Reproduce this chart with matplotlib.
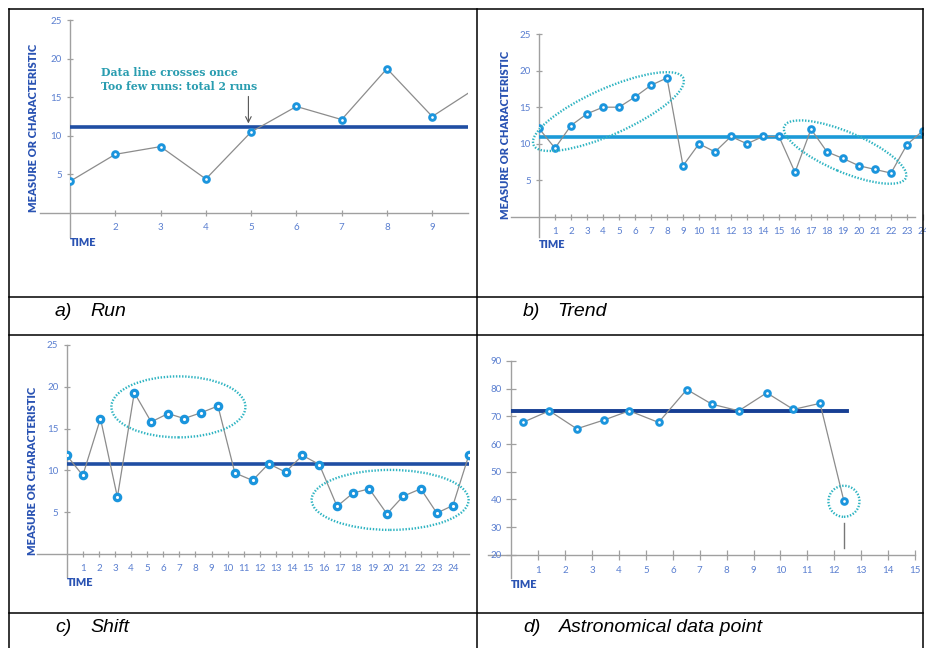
import matplotlib
matplotlib.use('Agg')
import matplotlib.pyplot as plt
import matplotlib.transforms as mtransforms
from matplotlib.patches import Ellipse
from matplotlib.lines import Line2D

# ---- data ----
a_time = [1, 2, 3, 4, 5, 6, 7, 8, 9, 10]
a_vals = [4.1, 7.6, 8.6, 4.4, 10.5, 13.8, 12.1, 18.7, 12.5, 16.3]
a_mean = 11.2
a_xticks = [2, 3, 4, 5, 6, 7, 8, 9]

b_time = list(range(25))
b_vals = [12.1, 9.4, 12.5, 14.1, 15.0, 15.0, 16.4, 18.0, 19.0, 7.0, 10.0, 8.9, 11.0,
          10.0, 11.0, 11.0, 6.1, 12.0, 8.9, 8.0, 7.0, 6.5, 6.0, 9.9, 11.8]
b_mean = 10.9
b_xticks = list(range(1, 25))

c_time = [0, 1.0, 2.1, 3.15, 4.2, 5.25, 6.3, 7.3, 8.35, 9.4, 10.45, 11.55, 12.55, 13.6,
          14.65, 15.7, 16.8, 17.8, 18.8, 19.9, 20.9, 22.0, 23.0, 24.0, 25.0]
c_vals = [11.8, 9.4, 16.2, 6.8, 19.3, 15.8, 16.8, 16.2, 16.9, 17.7, 9.7, 8.8, 10.8,
          9.8, 11.8, 10.7, 5.7, 7.3, 7.8, 4.8, 6.9, 7.8, 4.9, 5.8, 11.9]
c_mean = 10.75
c_xticks = list(range(1, 25))

d_time = [0.42, 1.41, 2.43, 3.45, 4.38, 5.47, 6.52, 7.45, 8.45, 9.49, 10.48, 11.47, 12.36]
d_vals = [67.8, 72.0, 65.5, 68.7, 72.0, 67.8, 79.7, 74.4, 72.0, 78.5, 72.5, 74.7, 39.3]
d_mean = 72.0
d_mean_end = 12.47
d_xticks = list(range(1, 16))
d_yticks = [20, 30, 40, 50, 60, 70, 80, 90]

run_yticks = [5, 10, 15, 20, 25]

# ellipses: (center time, center value, width px, height px, angle deg)
b_ellipses = [(4.34, 14.4, 164, 46, 24), (19.13, 8.87, 132, 40, -23)]
c_ellipses = [(6.94, 17.6, 134, 61, 0), (20.1, 6.47, 157, 60, 0)]
d_circle = (12.36, 39.3, 31, 31, 0)

captions = [('a)', 'Run'), ('b)', 'Trend'), ('c)', 'Shift'), ('d)', 'Astronomical data point')]

# ---- styles ----
W, H = 926, 648
l_gray = '#8c8c8c'
ax_gray = '#a0a0a0'
mk_blue = '#1b95dd'
tick_blue = '#5a7fd0'
lab_blue = '#2a53b3'
teal = '#2fb4c2'

fig = plt.figure(figsize=(W / 100, H / 100), dpi=100)


def px_axes(x0, x1, y_top, y_bot):
    return fig.add_axes([x0 / W, 1 - y_bot / H, (x1 - x0) / W, (y_bot - y_top) / H])


def setup(ax, xlim, ylim, xticks, yticks, ext_left, ext_down, x_right, y_top, tl=5):
    ax.set_xlim(*xlim)
    ax.set_ylim(*ylim)
    for s in ax.spines.values():
        s.set_visible(False)
    ax.set_facecolor('none')
    ax.set_xticks(xticks)
    ax.set_yticks(yticks)
    ax.set_xticklabels([str(t) for t in xticks])
    ax.set_yticklabels([str(t) for t in yticks])
    ax.tick_params(direction='inout', length=tl, width=0.9, color=ax_gray,
                   labelcolor=tick_blue, labelsize=7, pad=3.5)
    ax.tick_params(axis='x', pad=4.5)
    for lab in ax.get_xticklabels() + ax.get_yticklabels():
        lab.set_fontfamily('Lato')
    # axis lines that run past the origin
    ax.plot([ext_left, x_right], [ylim[0], ylim[0]], color=ax_gray, lw=1.0, clip_on=False, zorder=1)
    ax.plot([xlim[0], xlim[0]], [ext_down, y_top], color=ax_gray, lw=1.0, clip_on=False, zorder=1)


def series(ax, t, v, ms=4.1, mew=2.1):
    ax.plot(t, v, color=l_gray, lw=0.9, zorder=3)
    ax.plot(t, v, 'o', ms=ms, mew=mew, mfc='white', mec=mk_blue, zorder=4)


def ellipse(ax, e):
    cx, cy, w, h, ang = e
    tr = fig.dpi_scale_trans + mtransforms.ScaledTranslation(cx, cy, ax.transData)
    ax.add_patch(Ellipse((0, 0), w / 100, h / 100, angle=ang, transform=tr, fill=False,
                         ec=teal, lw=1.7, ls=(0, (0.6, 0.7)), clip_on=False, zorder=5))


# ---- a) Run ----
axa = px_axes(70, 468, 20, 213)
setup(axa, (1, 9.79), (0, 25), a_xticks, run_yticks, 0.34, -3.1, 9.79, 25)
axa.axhline(a_mean, color='#1f4ea3', lw=2.6, zorder=2)
series(axa, a_time, a_vals)
axa.text(1.68, 17.25, 'Data line crosses once\nToo few runs: total 2 runs', color='#2a9db0',
         family='DejaVu Serif', weight='bold', fontsize=7.8, va='center', ha='left', linespacing=1.3)
axa.annotate('', xy=(4.94, 11.6), xytext=(4.94, 15.1),
             arrowprops=dict(arrowstyle='->', color='#555555', lw=0.8, shrinkA=0, shrinkB=0))

# ---- b) Trend ----
axb = px_axes(539, 923, 34, 217)
setup(axb, (0, 23.47), (0, 25), b_xticks, run_yticks, -1.75, -2.8, 23.47, 25)
axb.axhline(b_mean, color='#1b9ad8', lw=2.6, zorder=2)
series(axb, b_time, b_vals)
for e in b_ellipses:
    ellipse(axb, e)

# ---- c) Shift ----
axc = px_axes(66.7, 469, 345, 554)
setup(axc, (0, 25.0), (0, 25), c_xticks, run_yticks, -1.85, -2.8, 25.0, 25)
axc.axhline(c_mean, color='#1f4ea3', lw=2.6, zorder=2)
series(axc, c_time, c_vals, ms=4.6, mew=2.3)
for e in c_ellipses:
    ellipse(axc, e)

# ---- d) Astronomical data point ----
axd = px_axes(511.4, 915, 361, 554.7)
setup(axd, (0, 15), (20, 90), d_xticks, d_yticks, -0.87, 11.5, 15, 90, tl=7)
axd.plot([0, d_mean_end], [d_mean, d_mean], color='#173f94', lw=2.8, zorder=2)
series(axd, d_time, d_vals)
ellipse(axd, d_circle)
axd.plot([d_time[-1], d_time[-1]], [31.3, 22.3], color='#777777', lw=1.0, zorder=2)

# ---- axis titles ----
ylab = dict(rotation=90, ha='center', va='center', color=lab_blue, family='Lato',
            weight='heavy', fontsize=8)
fig.text(34 / W, 1 - 128 / H, 'MEASURE OR CHARACTERISTIC', **ylab)
fig.text(505 / W, 1 - 135 / H, 'MEASURE OR CHARACTERISTIC', **ylab)
fig.text(33 / W, 1 - 471 / H, 'MEASURE OR CHARACTERISTIC', **ylab)
tlab = dict(ha='left', va='center', color=lab_blue, family='Lato', weight='heavy', fontsize=7.8)
fig.text(70 / W, 1 - 242 / H, 'TIME', **tlab)
fig.text(539 / W, 1 - 245 / H, 'TIME', **tlab)
fig.text(67 / W, 1 - 582 / H, 'TIME', **tlab)
fig.text(511 / W, 1 - 585 / H, 'TIME', **tlab)

# ---- table captions ----
cap = dict(ha='left', va='center', family='Liberation Sans', style='italic', fontsize=14, color='black')
cap_pos = [(55, 90, 312), (523, 557, 312), (55, 90, 627), (523, 559, 627)]
for (lbl, name), (x1, x2, y) in zip(captions, cap_pos):
    fig.text(x1 / W, 1 - y / H, lbl, **cap)
    fig.text(x2 / W, 1 - y / H, name, **cap)

# ---- table borders ----
for y in [9, 297, 335, 613]:
    fig.add_artist(Line2D([9 / W, 923 / W], [1 - y / H, 1 - y / H], color='black', lw=1.1))
for x in [9, 477, 923]:
    fig.add_artist(Line2D([x / W, x / W], [1 - 9 / H, 0], color='black', lw=1.1))

fig.savefig('out.png', dpi=100)
